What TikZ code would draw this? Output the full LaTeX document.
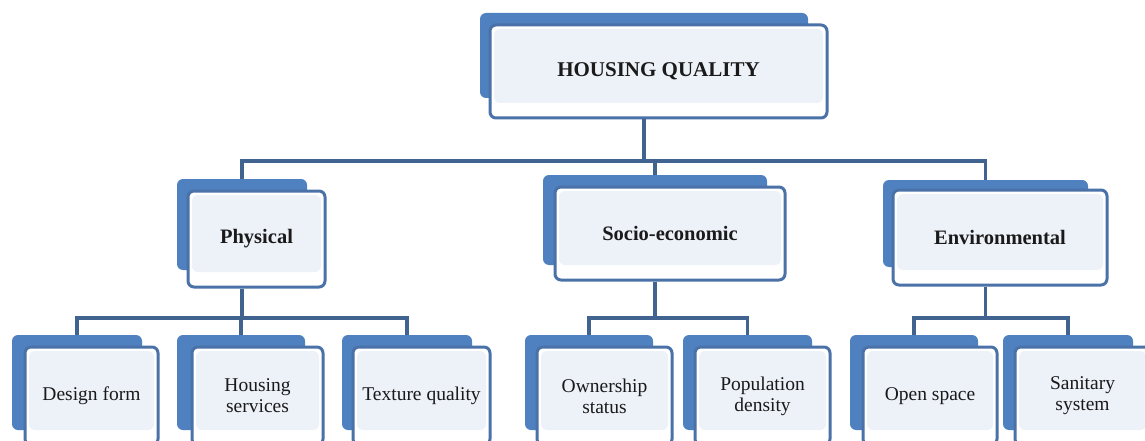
\documentclass[tikz,border=0pt]{standalone}
\usepackage{fontspec}
\setmainfont{Liberation Serif}
\definecolor{shadeblue}{HTML}{4F80BF}
\definecolor{rimblue}{HTML}{4A72A8}
\definecolor{linkblue}{HTML}{41638F}
\definecolor{paleblue}{HTML}{EDF1F8}
\definecolor{inktext}{HTML}{1A1A1A}
\tikzset{
  backbox/.style={fill=shadeblue, draw=none, rounded corners=6pt, inner sep=0pt},
  frontbox/.style={fill=white, draw=rimblue, line width=3pt, rounded corners=6pt,
    inner sep=0pt, text=inktext, align=center,
    path picture={\fill[paleblue]
      ([shift={(4pt,-4pt)}]path picture bounding box.north west) rectangle
      ([shift={(-4pt,15pt)}]path picture bounding box.south east);}},
  headtext/.style={font=\fontsize{21}{24}\selectfont\bfseries},
  midtext/.style={font=\fontsize{20.5}{23}\selectfont\bfseries},
  leaftext/.style={font=\fontsize{19.5}{21}\selectfont},
  link/.style={draw=linkblue, line width=3.5pt}
}
\begin{document}
\begin{tikzpicture}[x=1pt,y=-1pt]
\useasboundingbox (0,0) rectangle (1145,441);
\fill[white] (0,0) rectangle (1145,441);
\begin{scope}
\clip (0,0) rectangle (1145,441);

% top level
\node[backbox, minimum width=328pt, minimum height=85pt] (hq-b) at (644,55.5) {};
\node[frontbox, headtext, minimum width=337pt, minimum height=93pt] (hq) at (658.5,71.5) {HOUSING QUALITY};

% second level
\node[backbox, minimum width=130pt, minimum height=91pt] (phy-b) at (242,224.5) {};
\node[frontbox, midtext, minimum width=137pt, minimum height=96pt] (phy) at (256.5,239) {Physical};

\node[backbox, minimum width=224pt, minimum height=90pt] (soc-b) at (655,220) {};
\node[frontbox, midtext, minimum width=230pt, minimum height=93pt] (soc) at (670,233.5) {Socio-economic};

\node[backbox, minimum width=205pt, minimum height=87pt] (env-b) at (985.5,223.5) {};
\node[frontbox, midtext, minimum width=214pt, minimum height=95pt] (env) at (1000,237.5) {Environmental};

% third level
\node[backbox, minimum width=130pt, minimum height=95pt] (des-b) at (77,382.5) {};
\node[frontbox, leaftext, minimum width=133pt, minimum height=98pt] (des) at (91.5,396) {Design form};

\node[backbox, minimum width=128pt, minimum height=95pt] (hsv-b) at (241,382.5) {};
\node[frontbox, leaftext, minimum width=131pt, minimum height=98pt] (hsv) at (257.5,396) {Housing\\services};

\node[backbox, minimum width=130pt, minimum height=95pt] (tex-b) at (407,382.5) {};
\node[frontbox, leaftext, minimum width=137pt, minimum height=98pt] (tex) at (421.5,396) {Texture quality};

\node[backbox, minimum width=128pt, minimum height=95pt] (own-b) at (589,382.5) {};
\node[frontbox, leaftext, minimum width=135pt, minimum height=98pt] (own) at (604.5,396) {Ownership\\status};

\node[backbox, minimum width=129pt, minimum height=95pt] (pop-b) at (747.5,382.5) {};
\node[frontbox, leaftext, minimum width=135pt, minimum height=98pt] (pop) at (762.5,396) {Population\\density};

\node[backbox, minimum width=128pt, minimum height=95pt] (opn-b) at (914,382.5) {};
\node[frontbox, leaftext, minimum width=134pt, minimum height=98pt] (opn) at (930,396) {Open space};

\node[backbox, minimum width=130pt, minimum height=95pt] (san-b) at (1068,382.5) {};
\node[frontbox, leaftext, minimum width=135pt, minimum height=98pt] (san) at (1082.5,396) {Sanitary\\system};

% bus levels
\coordinate (topbus) at (0,161);
\coordinate (lowbus) at (0,318);

% top to second level
\draw[link] (hq-b.center |- hq.south) -- (hq-b.center |- topbus) -| (soc-b.north);
\draw[link] (phy-b.north) |- (topbus -| env-b.north) -- (env-b.north);

% second to third level
\draw[link] (phy-b.center |- phy.south) -- (phy-b.center |- lowbus);
\draw[link] (des-b.north) |- (lowbus -| tex-b.north) -- (tex-b.north);
\draw[link] (hsv-b.north) -- (hsv-b.north |- lowbus);

\draw[link] (soc-b.center |- soc.south) -- (soc-b.center |- lowbus);
\draw[link] (own-b.north) |- (lowbus -| pop-b.north) -- (pop-b.north);

\draw[link] (env-b.center |- env.south) -- (env-b.center |- lowbus);
\draw[link] (opn-b.north) |- (lowbus -| san-b.north) -- (san-b.north);
\end{scope}
\end{tikzpicture}
\end{document}
